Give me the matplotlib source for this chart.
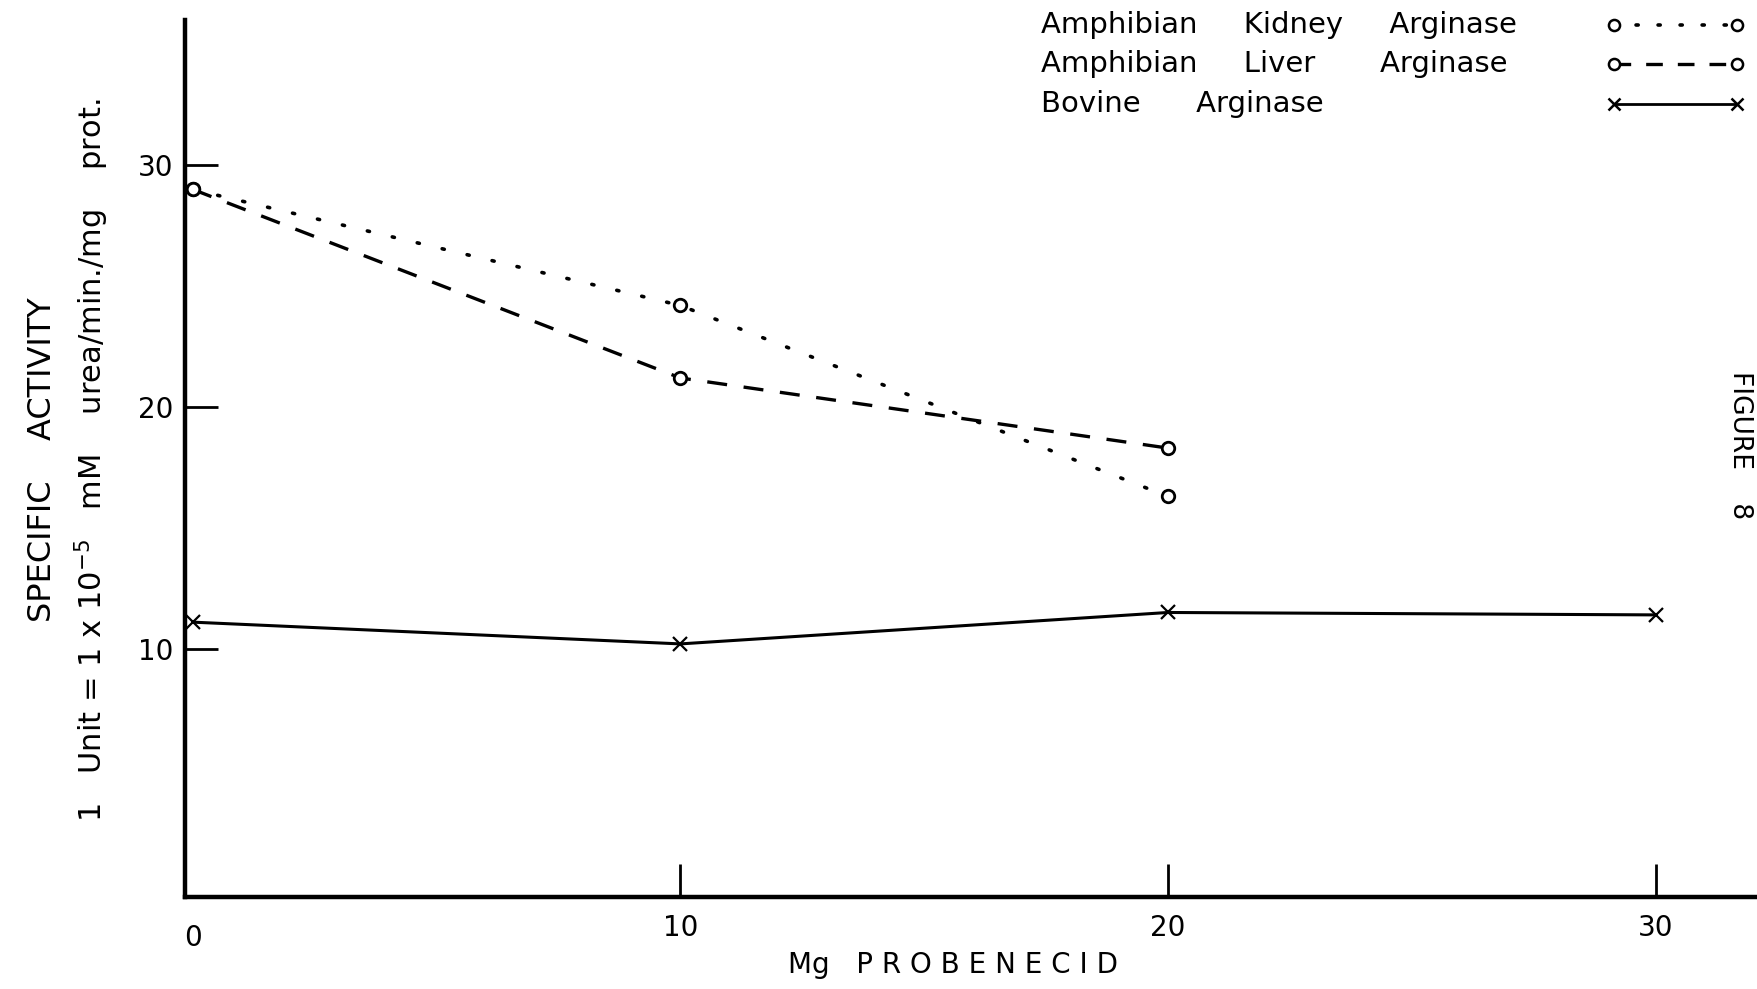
import matplotlib
matplotlib.use("Agg")
import matplotlib.pyplot as plt
from matplotlib.lines import Line2D

# mg of probenecid added
dose = [0, 10, 20]
dose_bovine = [0, 10, 20, 30]

# specific activity (units / mg protein)
kidney = [29.0, 24.2, 16.3]
liver = [29.0, 21.2, 18.3]
bovine = [11.1, 10.2, 11.5, 11.4]

x_ticks = [10, 20, 30]
y_ticks = [10, 20, 30]

fig = plt.figure(figsize=(17.58, 9.89), dpi=100)
ax = fig.add_axes([0.1052, 0.093, 0.8948, 0.8866])

ax.plot(dose, kidney, color='black', lw=2.6, linestyle=(0, (0.6, 6.5)),
        dash_capstyle='round', marker='o', ms=9, mfc='white', mec='black', mew=2)
ax.plot(dose, liver, color='black', lw=2.4, linestyle=(0, (6, 5)),
        marker='o', ms=9, mfc='white', mec='black', mew=2)
ax.plot(dose_bovine, bovine, color='black', lw=2.2, linestyle='-',
        marker='x', ms=10, mew=1.6)

ax.set_xlim(-0.16, 32.1)
ax.set_ylim(-0.27, 36.0)

for side in ['top', 'right']:
    ax.spines[side].set_visible(False)
ax.spines['left'].set_linewidth(3.2)
ax.spines['bottom'].set_linewidth(3.2)

ax.set_xticks(x_ticks)
ax.set_yticks(y_ticks)
ax.tick_params(axis='both', direction='in', length=24, width=2, labelsize=20)
ax.tick_params(axis='y', pad=8)
ax.tick_params(axis='x', pad=12)
# the origin is labelled separately, a bit lower than the other numbers
ax.text(0, -1.4, '0', ha='center', va='top', fontsize=20)

ax.set_xlabel('Mg   P R O B E N E C I D', fontsize=20, va='center')
ax.xaxis.set_label_coords(0.488, -0.078)

fig.text(0.024, 0.535, 'SPECIFIC    ACTIVITY', rotation=90,
         ha='center', va='center', fontsize=23)
fig.text(0.052, 0.535,
         r'1   Unit = 1 x 10$^{-5}$   mM    urea/min./mg    prot.',
         rotation=90, ha='center', va='center', fontsize=22)

# key in the upper right corner
labels = ['Amphibian     Kidney     Arginase',
          'Amphibian     Liver       Arginase',
          'Bovine      Arginase']
rows_y = [0.975, 0.935, 0.895]
for lab, yy in zip(labels, rows_y):
    fig.text(0.592, yy, lab, ha='left', va='center', fontsize=21)

styles = [dict(linestyle=(0, (0.6, 5.5)), marker='o', mfc='white', lw=2.6,
               dash_capstyle='round'),
          dict(linestyle=(0, (5, 4.5)), marker='o', mfc='white', lw=2.4),
          dict(linestyle='-', marker='x', lw=2.0)]
for st, yy in zip(styles, rows_y):
    fig.add_artist(Line2D([0.918, 0.988], [yy, yy], transform=fig.transFigure,
                          color='black', ms=8, mec='black', mew=1.8, **st))

fig.text(0.99, 0.55, 'FIGURE    8', rotation=-90, ha='center', va='center',
         fontsize=19)

fig.savefig('out.png', dpi=100, facecolor='white')
